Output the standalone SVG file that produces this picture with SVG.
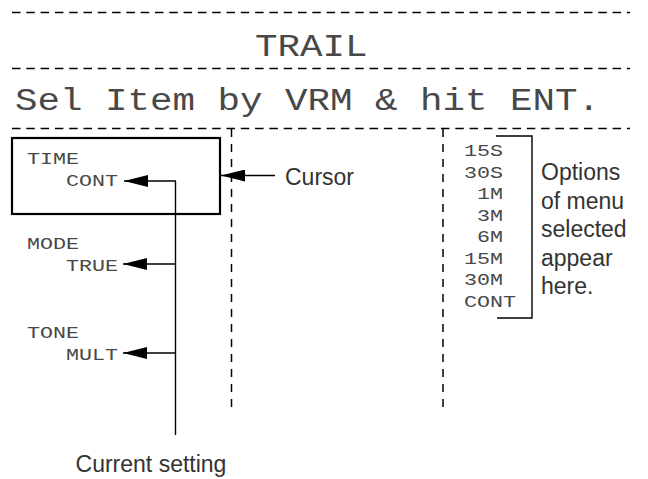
<svg xmlns="http://www.w3.org/2000/svg" width="648" height="479" viewBox="0 0 648 479">
<style>
.mono{font-family:"Liberation Mono","DejaVu Sans Mono",monospace;fill:#484848}
.big{font-size:31px}
.sm{font-size:17px}
.sans{font-family:"Liberation Sans",Arial,sans-serif;font-size:23px;fill:#333}
.dash{stroke:#000;stroke-width:1.5;stroke-dasharray:8.5 5.8;fill:none}
.vdash{stroke:#000;stroke-width:1.5;stroke-dasharray:8 7;fill:none}
.ln{stroke:#000;stroke-width:1.4;fill:none}
</style>
<defs>
<marker id="ah" viewBox="0 0 24 12" refX="24" refY="6" markerWidth="24" markerHeight="12" markerUnits="userSpaceOnUse" orient="auto">
<path d="M24,6 L0,0 L0,12 Z" fill="#000"/>
</marker>
</defs>
<rect width="648" height="479" fill="#fff"/>
<g id="header">
<line class="dash" x1="12" y1="12.5" x2="630" y2="12.5"/>
<text class="mono big" x="255" y="56" textLength="112.5" lengthAdjust="spacingAndGlyphs">TRAIL</text>
<line class="dash" x1="12" y1="68.5" x2="630" y2="68.5"/>
<text class="mono big" x="15" y="110" textLength="585" lengthAdjust="spacingAndGlyphs">Sel Item by VRM &amp; hit ENT.</text>
<line class="dash" x1="12" y1="128.5" x2="630" y2="128.5"/>
<line class="vdash" x1="231.5" y1="129" x2="231.5" y2="408"/>
<line class="vdash" x1="443" y1="129" x2="443" y2="408"/>
</g>
<g id="cursor-box">
<rect x="12" y="138" width="208" height="76" fill="none" stroke="#000" stroke-width="2.2"/>
</g>
<g id="item-time">
<text class="mono sm" x="27" y="164" textLength="52" lengthAdjust="spacingAndGlyphs">TIME</text>
<text class="mono sm" x="66" y="186" textLength="52" lengthAdjust="spacingAndGlyphs">CONT</text>
</g>
<g id="item-mode">
<text class="mono sm" x="27" y="249" textLength="52" lengthAdjust="spacingAndGlyphs">MODE</text>
<text class="mono sm" x="66" y="271" textLength="52" lengthAdjust="spacingAndGlyphs">TRUE</text>
</g>
<g id="item-tone">
<text class="mono sm" x="27" y="338" textLength="52" lengthAdjust="spacingAndGlyphs">TONE</text>
<text class="mono sm" x="66" y="360" textLength="52" lengthAdjust="spacingAndGlyphs">MULT</text>
</g>
<g id="options-list">
<text class="mono sm" x="464" y="156" textLength="39" lengthAdjust="spacingAndGlyphs">15S</text>
<text class="mono sm" x="464" y="177.5" textLength="39" lengthAdjust="spacingAndGlyphs">30S</text>
<text class="mono sm" x="477" y="199" textLength="26" lengthAdjust="spacingAndGlyphs">1M</text>
<text class="mono sm" x="477" y="220.5" textLength="26" lengthAdjust="spacingAndGlyphs">3M</text>
<text class="mono sm" x="477" y="242" textLength="26" lengthAdjust="spacingAndGlyphs">6M</text>
<text class="mono sm" x="464" y="263.5" textLength="39" lengthAdjust="spacingAndGlyphs">15M</text>
<text class="mono sm" x="464" y="285" textLength="39" lengthAdjust="spacingAndGlyphs">30M</text>
<text class="mono sm" x="464" y="306.5" textLength="52" lengthAdjust="spacingAndGlyphs">CONT</text>
<path class="ln" d="M496,136 H532 V318 H497" stroke-width="1.6"/>
</g>
<g id="label-options">
<text class="sans" x="541" y="180">Options</text>
<text class="sans" x="541" y="208.5">of menu</text>
<text class="sans" x="541" y="237">selected</text>
<text class="sans" x="541" y="265.5">appear</text>
<text class="sans" x="541" y="294">here.</text>
</g>
<g id="label-cursor">
<text class="sans" x="285" y="185">Cursor</text>
</g>
<g id="label-current">
<text class="sans" x="151" y="472" text-anchor="middle">Current setting</text>
</g>
<g id="connectors">
<line class="ln" x1="275" y1="175.5" x2="221" y2="175.5" marker-end="url(#ah)"/>
<line class="ln" x1="175.5" y1="435" x2="175.5" y2="181"/>
<line class="ln" x1="176" y1="181" x2="124" y2="181" marker-end="url(#ah)"/>
<line class="ln" x1="176" y1="264" x2="123" y2="264" marker-end="url(#ah)"/>
<line class="ln" x1="176" y1="353" x2="123" y2="353" marker-end="url(#ah)"/>
</g>
</svg>
